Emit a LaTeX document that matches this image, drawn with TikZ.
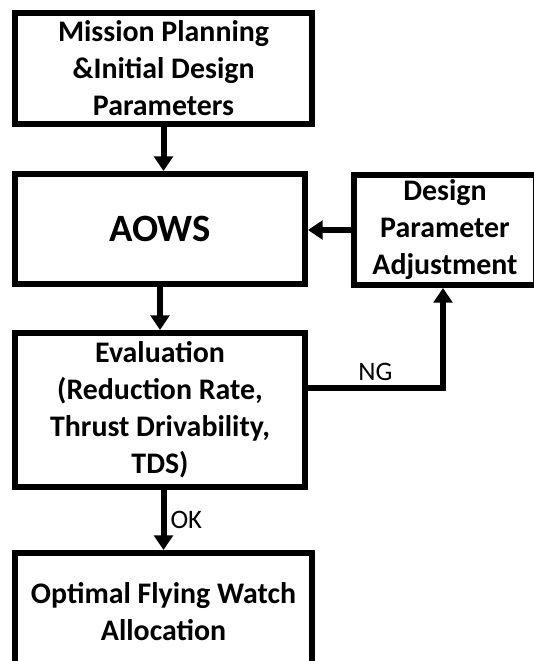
\documentclass[tikz,border=0pt]{standalone}
\usepackage{fontspec}
\setmainfont{Carlito}
\usetikzlibrary{arrows.meta}

\begin{document}
\begin{tikzpicture}[x=0.75pt, y=-0.75pt,
		block/.style={draw, line width=4.5pt, inner sep=0pt, align=center,
			font=\bfseries\fontsize{22.4}{27.75}\selectfont},
		flow/.style={line width=4.5pt, -{Triangle[width=14pt,length=11pt]}},
		tag/.style={font=\fontsize{20}{22}\selectfont, inner sep=3pt}]
		\clip (0,0) rectangle (534,661);
		
		\node[block, minimum width=222.75pt, minimum height=83.25pt] (plan) at (163.5,68.5) {Mission Planning\\\&Initial Design\\Parameters};
		\node[block, minimum width=217.5pt, minimum height=82.5pt, font=\bfseries\fontsize{29}{32}\selectfont] (aows) at (160,229) {AOWS};
		\node[block, minimum width=136.5pt, minimum height=82.5pt] (adjust) at (445,230) {Design\\Parameter\\Adjustment};
		\node[block, minimum width=217.5pt, minimum height=115.5pt] (eval) at (160,410) {Evaluation\\(Reduction Rate,\\Thrust Drivability,\\TDS)};
		\node[block, minimum width=222.75pt, minimum height=88.5pt] (final) at (163.5,612) {Optimal Flying Watch\\Allocation};
		
		\coordinate (ng) at (443,388);
		
		\draw[flow] (plan.south) -- (plan.south |- aows.north);
		\draw[flow] (aows.south) -- (eval.north);
		\draw[flow] (eval.south -| final.north) -- node[tag, right] {OK} (final.north);
		\draw[flow] (adjust.west) -- (adjust.west -| aows.east);
		\draw[flow] (eval.east |- ng) -- node[tag, above] {NG} (ng) -- (ng |- adjust.south);
	\end{tikzpicture}
\end{document}
